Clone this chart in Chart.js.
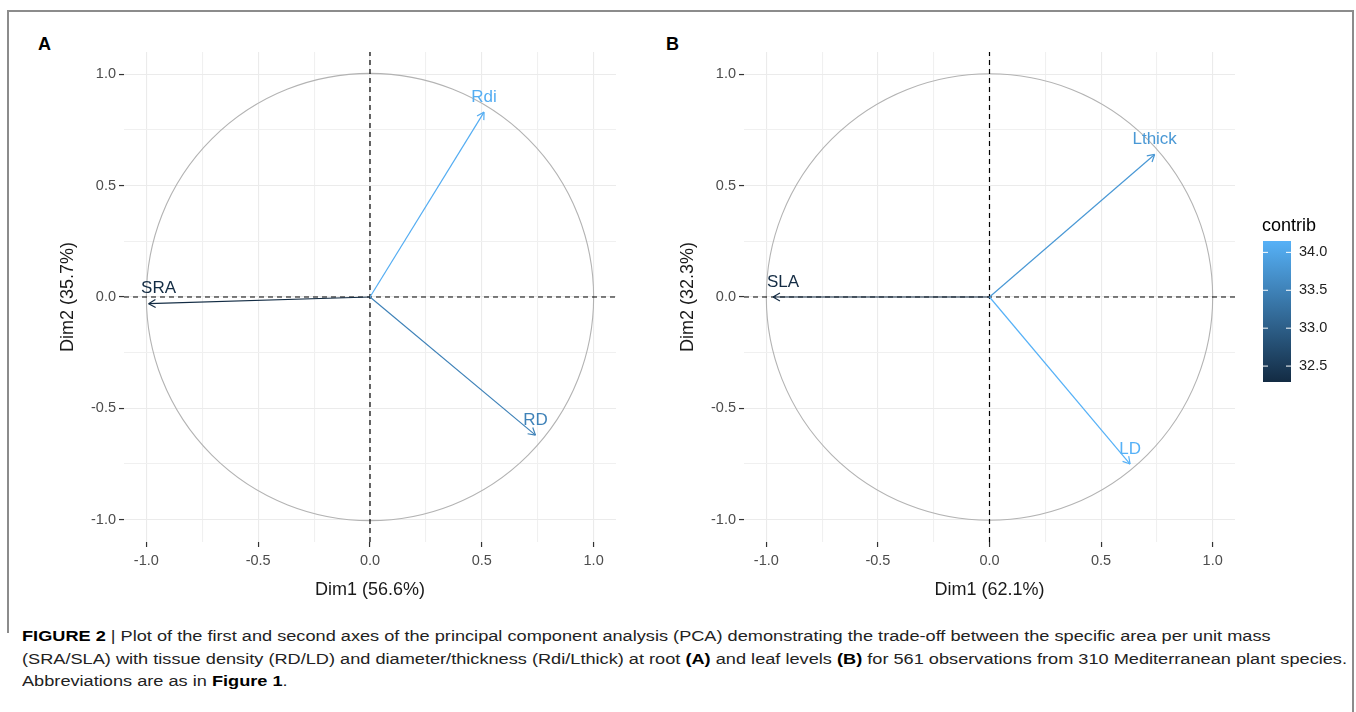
<!DOCTYPE html>
<html>
<head>
<meta charset="utf-8">
<script src="https://cdn.jsdelivr.net/npm/chart.js@4.4.1/dist/chart.umd.min.js"></script>
<style>
  html, body { margin: 0; padding: 0; background: #fff; }
  body { width: 1356px; height: 712px; position: relative; overflow: hidden; font-family: "Liberation Sans", Arial, sans-serif; }
  .frame { position: absolute; background: #8c8c8c; }
  .panel { position: absolute; top: 0; }
  .letter { position: absolute; top: 34px; font-weight: bold; font-size: 18px; color: #000; }
  .cap { position: absolute; left: 22px; white-space: nowrap; font-size: 15.5px; color: #222; transform-origin: 0 50%; }
  .cap b { color: #000; }
</style>
</head>
<body>
<div class="frame" style="left:7px; top:10px; width:1346px; height:1.5px;"></div>
<div class="frame" style="left:7px; top:10px; width:1.5px; height:623px;"></div>
<div class="frame" style="left:1352px; top:10px; width:1.5px; height:702px;"></div>

<div class="letter" style="left:38px;">A</div>
<div class="letter" style="left:666px;">B</div>

<div class="panel" style="left:0; width:680px; height:612px;"><canvas id="pcaA"></canvas></div>
<div class="panel" style="left:670px; width:686px; height:612px;"><canvas id="pcaB"></canvas></div>

<div class="cap" id="cap1" style="top:627px;"><b>FIGURE 2</b> | Plot of the first and second axes of the principal component analysis (PCA) demonstrating the trade-off between the specific area per unit mass</div>
<div class="cap" id="cap2" style="top:650px;">(SRA/SLA) with tissue density (RD/LD) and diameter/thickness (Rdi/Lthick) at root <b>(A)</b> and leaf levels <b>(B)</b> for 561 observations from 310 Mediterranean plant species.</div>
<div class="cap" id="cap3" style="top:672px;">Abbreviations are as in <b>Figure 1</b>.</div>

<script>
"use strict";

// panel A: root traits
const varsA = ['SRA', 'Rdi', 'RD'];
const dim1A = [-0.99, 0.51, 0.74];
const dim2A = [-0.03, 0.83, -0.62];
const contribA = [32.3, 34.1, 33.5];

// panel B: leaf traits
const varsB = ['SLA', 'Lthick', 'LD'];
const dim1B = [-0.97, 0.74, 0.63];
const dim2B = [0.0, 0.64, -0.75];
const contribB = [32.29, 33.8, 34.15];

const axisTicks = [-1, -0.75, -0.5, -0.25, 0, 0.25, 0.5, 0.75, 1];
const legendTicks = [32.5, 33.0, 33.5, 34.0];

const lowCol = [19, 43, 67];
const highCol = [86, 177, 247];
const allContrib = contribA.concat(contribB);
const cMin = Math.min(...allContrib);
const cMax = Math.max(...allContrib);

function contribColor(v) {
    const t = (v - cMin) / (cMax - cMin);
    const c = lowCol.map((l, i) => Math.round(l + (highCol[i] - l) * t));
    return 'rgb(' + c.join(',') + ')';
}

const isMajor = (v) => Math.abs(v * 2 - Math.round(v * 2)) < 1e-6;

// circle, arrow heads and labels
const pcaDecor = {
    id: 'pcaDecor',
    beforeDatasetsDraw(chart) {
        const {ctx, scales: {x, y}} = chart;
        const cx = x.getPixelForValue(0);
        const cy = y.getPixelForValue(0);
        const r = x.getPixelForValue(1) - cx;
        ctx.save();
        ctx.strokeStyle = '#b3b3b3';
        ctx.lineWidth = 1.1;
        ctx.beginPath();
        ctx.arc(cx, cy, r, 0, Math.PI * 2);
        ctx.stroke();
        ctx.restore();
    },
    afterDatasetsDraw(chart, args, opts) {
        const {ctx, scales: {x, y}} = chart;
        const x0 = x.getPixelForValue(0);
        const y0 = y.getPixelForValue(0);
        ctx.save();
        opts.names.forEach((name, i) => {
            const px = x.getPixelForValue(opts.d1[i]);
            const py = y.getPixelForValue(opts.d2[i]);
            const col = contribColor(opts.contrib[i]);
            const ang = Math.atan2(py - y0, px - x0);
            ctx.strokeStyle = col;
            ctx.lineWidth = 1.2;
            ctx.beginPath();
            [Math.PI / 6, -Math.PI / 6].forEach((a) => {
                ctx.moveTo(px, py);
                ctx.lineTo(px - 8 * Math.cos(ang + a), py - 8 * Math.sin(ang + a));
            });
            ctx.stroke();
            ctx.fillStyle = col;
            ctx.font = '17px "Liberation Sans", Arial, sans-serif';
            ctx.textAlign = 'center';
            ctx.textBaseline = 'middle';
            ctx.fillText(name, px + (opts.d1[i] < -0.5 ? 10 : 0), py - 15);
        });
        ctx.restore();
    }
};

// colour bar legend
const colourBar = {
    id: 'colourBar',
    afterDraw(chart, args, opts) {
        if (!opts.show) return;
        const {ctx} = chart;
        const left = 593, top = 241, w = 28, h = 141;
        const vToY = (v) => top + h - (v - cMin) / (cMax - cMin) * h;
        ctx.save();
        const g = ctx.createLinearGradient(0, top + h, 0, top);
        g.addColorStop(0, contribColor(cMin));
        g.addColorStop(1, contribColor(cMax));
        ctx.fillStyle = g;
        ctx.fillRect(left, top, w, h);
        ctx.fillStyle = '#000';
        ctx.font = '18px "Liberation Sans", Arial, sans-serif';
        ctx.textAlign = 'left';
        ctx.textBaseline = 'middle';
        ctx.fillText('contrib', left - 1, 226);
        ctx.font = '14.5px "Liberation Sans", Arial, sans-serif';
        ctx.fillStyle = '#222';
        legendTicks.forEach((v) => {
            const ty = vToY(v);
            ctx.strokeStyle = '#fff';
            ctx.lineWidth = 1;
            ctx.beginPath();
            ctx.moveTo(left, ty); ctx.lineTo(left + 5, ty);
            ctx.moveTo(left + w - 5, ty); ctx.lineTo(left + w, ty);
            ctx.stroke();
            ctx.fillText(v.toFixed(1), left + w + 8, ty);
        });
        ctx.restore();
    }
};

function makePanel(canvasId, names, d1, d2, contrib, xTitle, yTitle, pad, showBar) {
    const arrows = names.map((n, i) => ({
        type: 'line',
        label: n,
        data: [{x: 0, y: 0}, {x: d1[i], y: d2[i]}],
        borderColor: contribColor(contrib[i]),
        borderWidth: 1.2,
        pointRadius: 0,
        order: 1
    }));
    const refLines = [
        {data: [{x: -1.1, y: 0}, {x: 1.1, y: 0}]},
        {data: [{x: 0, y: -1.1}, {x: 0, y: 1.1}]}
    ].map((d) => ({
        type: 'line',
        label: 'ref',
        data: d.data,
        borderColor: '#000',
        borderWidth: 1.2,
        borderDash: [5, 4],
        pointRadius: 0,
        order: 2
    }));

    const tickFont = {family: '"Liberation Sans", Arial, sans-serif', size: 14.5};
    const titleFont = {family: '"Liberation Sans", Arial, sans-serif', size: 18};
    const grid = {
        color: (c) => isMajor(c.tick.value) ? '#ebebeb' : '#f0f0f0',
        lineWidth: 1.1,
        tickColor: (c) => isMajor(c.tick.value) ? '#333' : 'rgba(0,0,0,0)',
        tickLength: 5,
        tickWidth: 1.2
    };
    const setTicks = (scale) => { scale.ticks = axisTicks.map((v) => ({value: v})); };
    const fmt = (v) => isMajor(v) ? v.toFixed(1) : '';

    return new Chart(document.getElementById(canvasId), {
        type: 'scatter',
        data: {datasets: refLines.concat(arrows)},
        options: {
            responsive: true,
            maintainAspectRatio: false,
            animation: false,
            events: [],
            layout: {padding: pad},
            plugins: {
                legend: {display: false},
                tooltip: {enabled: false},
                pcaDecor: {names: names, d1: d1, d2: d2, contrib: contrib},
                colourBar: {show: showBar}
            },
            scales: {
                x: {
                    type: 'linear',
                    min: -1.1,
                    max: 1.1,
                    afterBuildTicks: setTicks,
                    afterFit: (s) => { s.height = 70; },
                    border: {display: false},
                    grid: grid,
                    ticks: {color: '#4d4d4d', font: tickFont, padding: 5, maxRotation: 0, autoSkip: false, callback: fmt},
                    title: {display: true, text: xTitle, color: '#1a1a1a', font: titleFont, padding: {bottom: 11}}
                },
                y: {
                    type: 'linear',
                    min: -1.1,
                    max: 1.1,
                    afterBuildTicks: setTicks,
                    afterFit: (s) => { s.width = 74; },
                    border: {display: false},
                    grid: grid,
                    ticks: {color: '#4d4d4d', font: tickFont, padding: 3, autoSkip: false, callback: fmt},
                    title: {display: true, text: yTitle, color: '#1a1a1a', font: titleFont, padding: {top: 7}}
                }
            }
        },
        plugins: [pcaDecor, colourBar]
    });
}

makePanel('pcaA', varsA, dim1A, dim2A, contribA, 'Dim1 (56.6%)', 'Dim2 (35.7%)',
    {left: 50, top: 52, right: 64, bottom: 0}, false);
makePanel('pcaB', varsB, dim1B, dim2B, contribB, 'Dim1 (62.1%)', 'Dim2 (32.3%)',
    {left: 0, top: 52, right: 121, bottom: 0}, true);

// squeeze caption to the printed line width
const cap2 = document.getElementById('cap2');
const k = 1325 / cap2.getBoundingClientRect().width;
['cap1', 'cap2', 'cap3'].forEach((id) => {
    document.getElementById(id).style.transform = 'scaleX(' + k + ')';
});
</script>
</body>
</html>
